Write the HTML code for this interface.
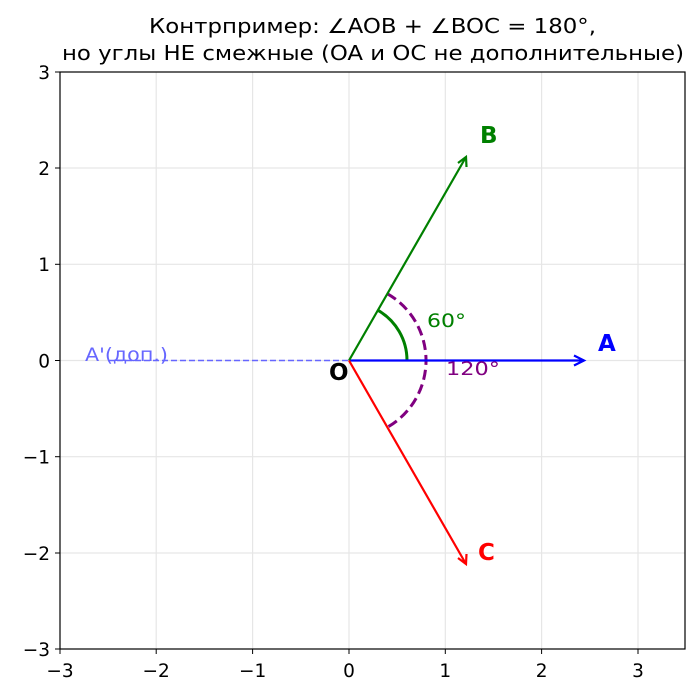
<!DOCTYPE html>
<html><head><meta charset="utf-8"><style>
html,body{margin:0;padding:0;background:#fff;}
svg{display:block;font-family:"DejaVu Sans","Liberation Sans",sans-serif;}
</style></head><body>
<svg width="700" height="699" viewBox="0 0 700 699" xmlns="http://www.w3.org/2000/svg">
<rect width="700" height="699" fill="#fff"/>
<text x="149" y="33" font-size="20" textLength="447" lengthAdjust="spacingAndGlyphs">Контрпример: ∠AOB + ∠BOC = 180°,</text>
<text x="62" y="60" font-size="20" textLength="622" lengthAdjust="spacingAndGlyphs">но углы НЕ смежные (OA и OC не дополнительные)</text>
<g stroke="#e6e6e6" stroke-width="1.2">
<line x1="156.2" y1="72" x2="156.2" y2="649"/><line x1="252.6" y1="72" x2="252.6" y2="649"/>
<line x1="349" y1="72" x2="349" y2="649"/><line x1="445.3" y1="72" x2="445.3" y2="649"/>
<line x1="541.6" y1="72" x2="541.6" y2="649"/><line x1="638" y1="72" x2="638" y2="649"/>
<line x1="60" y1="168" x2="685" y2="168"/><line x1="60" y1="264.3" x2="685" y2="264.3"/>
<line x1="60" y1="360.5" x2="685" y2="360.5"/><line x1="60" y1="456.7" x2="685" y2="456.7"/>
<line x1="60" y1="553" x2="685" y2="553"/>
</g>
<line x1="108" y1="360.5" x2="349" y2="360.5" stroke="#6666ff" stroke-width="1.5" stroke-dasharray="6,3"/>
<text x="85" y="361" font-size="19" fill="#6666ff" textLength="83" lengthAdjust="spacingAndGlyphs">A'(доп.)</text>
<path d="M387.5,293.8 A77,77 0 0 1 387.5,427.2" fill="none" stroke="purple" stroke-width="3" stroke-dasharray="10,5"/>
<path d="M407,360.5 A58,58 0 0 0 378,310.3" fill="none" stroke="green" stroke-width="3"/>
<g stroke-width="2.2" fill="none">
<line x1="349" y1="360.5" x2="584" y2="360.5" stroke="blue"/>
<path d="M574,355.5 L584,360.5 L574,365.5" stroke="blue"/>
<line x1="349" y1="360.5" x2="466" y2="157" stroke="green"/>
<path d="M458,163 L466,157 L466.5,167" stroke="green"/>
<line x1="349" y1="360.5" x2="466" y2="564" stroke="red"/>
<path d="M458,558 L466,564 L466.5,554" stroke="red"/>
</g>
<text x="598" y="351" font-size="23" font-weight="bold" fill="blue">A</text>
<text x="480" y="143" font-size="23" font-weight="bold" fill="green">B</text>
<text x="478" y="560" font-size="23" font-weight="bold" fill="red">C</text>
<text x="329" y="380" font-size="23" font-weight="bold" fill="#000">O</text>
<text x="427" y="327" font-size="19" fill="green" textLength="39" lengthAdjust="spacingAndGlyphs">60°</text>
<text x="446" y="375" font-size="19" fill="purple" textLength="54" lengthAdjust="spacingAndGlyphs">120°</text>
<rect x="60" y="72" width="625" height="577" fill="none" stroke="#000" stroke-width="1.2"/>
<g stroke="#000" stroke-width="1">
<line x1="60" y1="649" x2="60" y2="654"/><line x1="156.2" y1="649" x2="156.2" y2="654"/><line x1="252.6" y1="649" x2="252.6" y2="654"/><line x1="349" y1="649" x2="349" y2="654"/><line x1="445.3" y1="649" x2="445.3" y2="654"/><line x1="541.6" y1="649" x2="541.6" y2="654"/><line x1="638" y1="649" x2="638" y2="654"/>
<line x1="55" y1="72" x2="60" y2="72"/><line x1="55" y1="168" x2="60" y2="168"/><line x1="55" y1="264.3" x2="60" y2="264.3"/><line x1="55" y1="360.5" x2="60" y2="360.5"/><line x1="55" y1="456.7" x2="60" y2="456.7"/><line x1="55" y1="553" x2="60" y2="553"/><line x1="55" y1="649" x2="60" y2="649"/>
</g>
<g font-size="18.5" text-anchor="middle">
<text x="60" y="677">−3</text><text x="156.2" y="677">−2</text><text x="252.6" y="677">−1</text><text x="349" y="677">0</text><text x="445.3" y="677">1</text><text x="541.6" y="677">2</text><text x="638" y="677">3</text>
</g>
<g font-size="18.5" text-anchor="end">
<text x="50" y="79">3</text><text x="50" y="175">2</text><text x="50" y="271">1</text><text x="50" y="367.5">0</text><text x="50" y="463.7">−1</text><text x="50" y="560">−2</text><text x="50" y="656">−3</text>
</g>
</svg>
</body></html>
